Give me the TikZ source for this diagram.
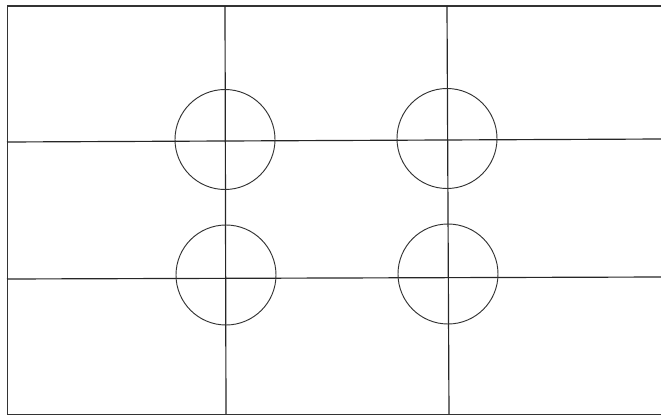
\documentclass[tikz,border=0pt]{standalone}
\usepackage{xcolor}

\begin{document}
\begin{tikzpicture}[
    x=0.03cm, y=-0.03cm,
    frame/.style={
        draw,
        line width=1.1pt,
        color=black!80
    },
    gridline/.style={
        draw,
        line width=1pt,
        color=black!85
    },
    ring/.style={
        draw,
        line width=0.8pt,
        color=black!80
    }
]
    \useasboundingbox (0,0) rectangle (661,417);

    % --- Outer frame (open on the right) ---
    \coordinate (tr) at (661,6);
    \coordinate (tl) at (7.5,6);
    \coordinate (bl) at (7.5,414.5);
    \coordinate (br) at (661,414.5);
    \path [frame] (tr) -- (tl) -- (bl) -- (br);

    % --- Thirds ---
    \coordinate (v1t) at (225,6);   \coordinate (v1b) at (226,414);
    \coordinate (v2t) at (447,6);   \coordinate (v2b) at (449,414);
    \coordinate (h1l) at (7,142);   \coordinate (h1r) at (661,139);
    \coordinate (h2l) at (7,279);   \coordinate (h2r) at (661,277);
    \path [gridline] (v1t) -- (v1b);
    \path [gridline] (v2t) -- (v2b);
    \path [gridline] (h1l) -- (h1r);
    \path [gridline] (h2l) -- (h2r);

    % --- Circles at the crossings ---
    \path [ring] (225,139.5) circle (50);
    \path [ring] (447,138.5) circle (50);
    \path [ring] (226,275) circle (50);
    \path [ring] (448,274) circle (50);

\end{tikzpicture}
\end{document}
